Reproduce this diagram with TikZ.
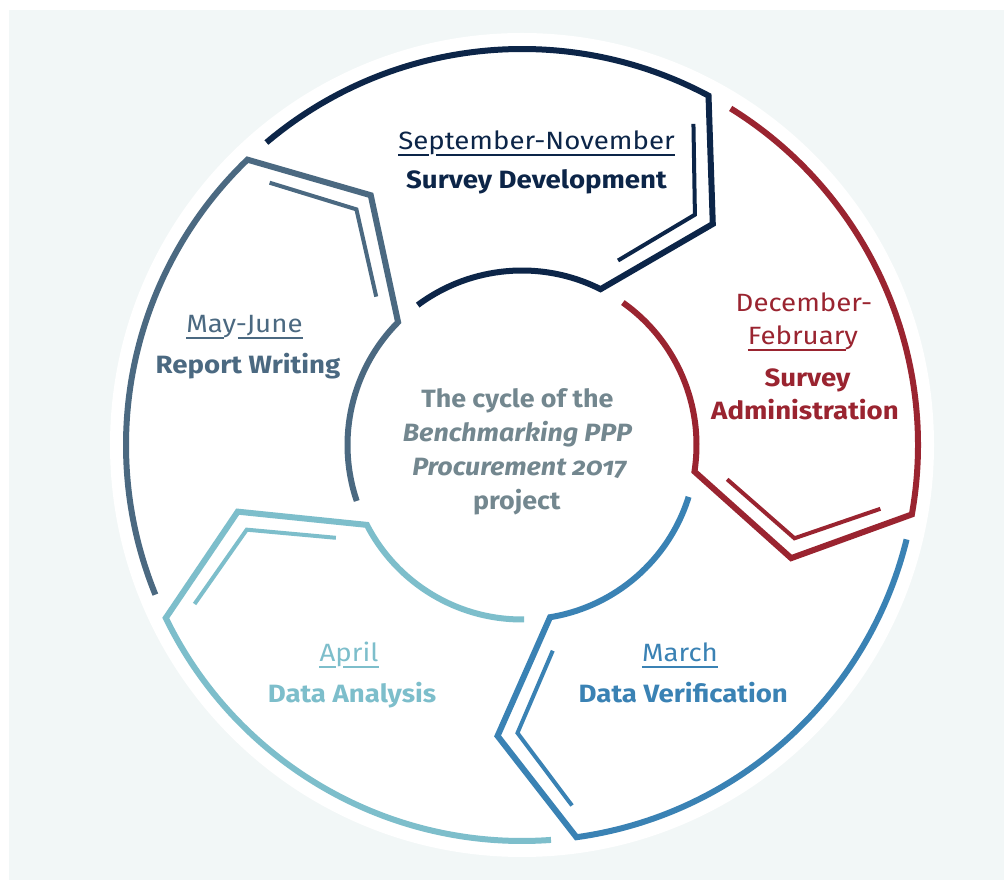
\documentclass[tikz,border=0pt]{standalone}
\usepackage{fontspec}
\setmainfont{Fira Sans}[Numbers=OldStyle, FakeStretch=1.105]
\newfontfamily\centrefont{Fira Sans}[Numbers=OldStyle, FakeStretch=1.075]
\definecolor{cnavy}{HTML}{0C2548}
\definecolor{cred}{HTML}{9A2430}
\definecolor{cblue}{HTML}{3A82B4}
\definecolor{clight}{HTML}{7DBECB}
\definecolor{cslate}{HTML}{4B6981}
\definecolor{cgrey}{HTML}{73878F}
\definecolor{cbg}{HTML}{F2F7F7}
% underline with a gap under a descender: node, colour, text before the descender letter, gap start, gap end
\newcommand\ulgap[5]{%
  \begingroup\fontsize{25}{30}\selectfont\pgfmathwidth{"#3"}\xdef\ulW{\pgfmathresult}\endgroup
  \pgfmathsetmacro\ulA{\ulW+#4}\pgfmathsetmacro\ulB{\ulW+#5}%
  \draw[ulstyle,#2] ([yshift=-5pt]#1.base west) -- ([yshift=-5pt,xshift=\ulA pt]#1.base west);
  \draw[ulstyle,#2] ([yshift=-5pt,xshift=\ulB pt]#1.base west) -- ([yshift=-5pt]#1.base east);
}
% underline that stops at a final descender: node, colour, text before it, offset
\newcommand\ulstop[4]{%
  \begingroup\fontsize{25}{30}\selectfont\pgfmathwidth{"#3"}\xdef\ulW{\pgfmathresult}\endgroup
  \pgfmathsetmacro\ulA{\ulW+#4}%
  \draw[ulstyle,#2] ([yshift=-5pt]#1.base west) -- ([yshift=-5pt,xshift=\ulA pt]#1.base west);
}
\newcommand\ulfull[2]{%
  \draw[ulstyle,#2] ([yshift=-5pt]#1.base west) -- ([yshift=-5pt]#1.base east);
}
\begin{document}
\begin{tikzpicture}[x=1pt,y=1pt,
  thickseg/.style={line width=6pt},
  thinseg/.style={line width=4pt},
  datelbl/.style={font=\fontsize{25}{30}\selectfont, inner sep=0pt, anchor=base},
  titlelbl/.style={font=\fontsize{25}{30}\selectfont\bfseries, inner sep=0pt, anchor=base},
  centerlbl/.style={font=\centrefont\fontsize{25}{30}\selectfont\bfseries, inner sep=0pt, anchor=base, text=cgrey},
  centerit/.style={font=\centrefont\fontsize{25}{30}\selectfont\bfseries\itshape, inner sep=0pt, anchor=base, text=cgrey},
  ulstyle/.style={line width=1.3pt}]
\useasboundingbox (0,0) rectangle (1004,880);
\fill[white] (0,0) rectangle (1004,880);
\fill[cbg] (9,0) rectangle (1004,870);
\fill[white] (522,435) circle[radius=412];
\begin{scope}[shift={(522,435)}]
\foreach \segK/\segCol in {0/cnavy,1/cred,2/cblue,3/clight,4/cslate}{
  \pgfmathsetmacro{\segB}{61.9-72*\segK}
  \pgfmathsetmacro{\segOa}{\segB+68.3}
  \pgfmathsetmacro{\segIa}{\segB+1.35}
  \pgfmathsetmacro{\segIb}{\segB+64.8}
  \pgfmathsetmacro{\segTp}{\segB-12.7}
  \pgfmathsetmacro{\segTt}{\segB-8.8}
  \pgfmathsetmacro{\segTe}{\segB+0.6}
  \draw[thickseg,draw=\segCol] (\segOa:396) arc[start angle=\segOa, end angle=\segB, radius=396]
     -- (\segTp:292) -- (\segIa:174.5) arc[start angle=\segIa, end angle=\segIb, radius=174.5];
  \draw[thinseg,draw=\segCol] (\segB:364) -- (\segTt:288) -- (\segTe:208);
}
\end{scope}
% Survey Development
\node[datelbl, text=cnavy] (sepnov) at (536.5,730) {September-November};
\ulgap{sepnov}{cnavy}{Se}{0.5}{8}
\node[titlelbl, text=cnavy] (survdev) at (536.5,691) {Survey Development};
% Survey Administration
\node[datelbl, text=cred] (dec) at (804,568) {December-};
\node[datelbl, text=cred] (feb) at (803,535) {February};
\ulstop{feb}{cred}{Februar}{1.5}
\node[titlelbl, text=cred] (survey) at (807.5,493) {Survey};
\node[titlelbl, text=cred] (admin) at (805,460) {Administration};
% Data Verification
\node[datelbl, text=cblue] (march) at (680,218) {March};
\ulfull{march}{cblue}
\node[titlelbl, text=cblue] (dver) at (683.3,177) {Data Verification};
% Data Analysis
\node[datelbl, text=clight] (april) at (349,218) {April};
\ulgap{april}{clight}{A}{0.5}{8}
\node[titlelbl, text=clight] (danal) at (352,177) {Data Analysis};
% Report Writing
\node[datelbl, text=cslate] (mayjune) at (244.5,547) {May-June};
\ulgap{mayjune}{cslate}{Ma}{1.5}{15}
\node[titlelbl, text=cslate] (report) at (248,506.7) {Report Writing};
% Centre
\node[centerlbl] (c1) at (517.3,472.7) {The cycle of the};
\node[centerit] (c2) at (517.5,438.3) {Benchmarking PPP};
\node[centerit] (c3) at (519.5,404) {Procurement 2017};
\node[centerlbl] (c4) at (516.7,370) {project};
\end{tikzpicture}
\end{document}
